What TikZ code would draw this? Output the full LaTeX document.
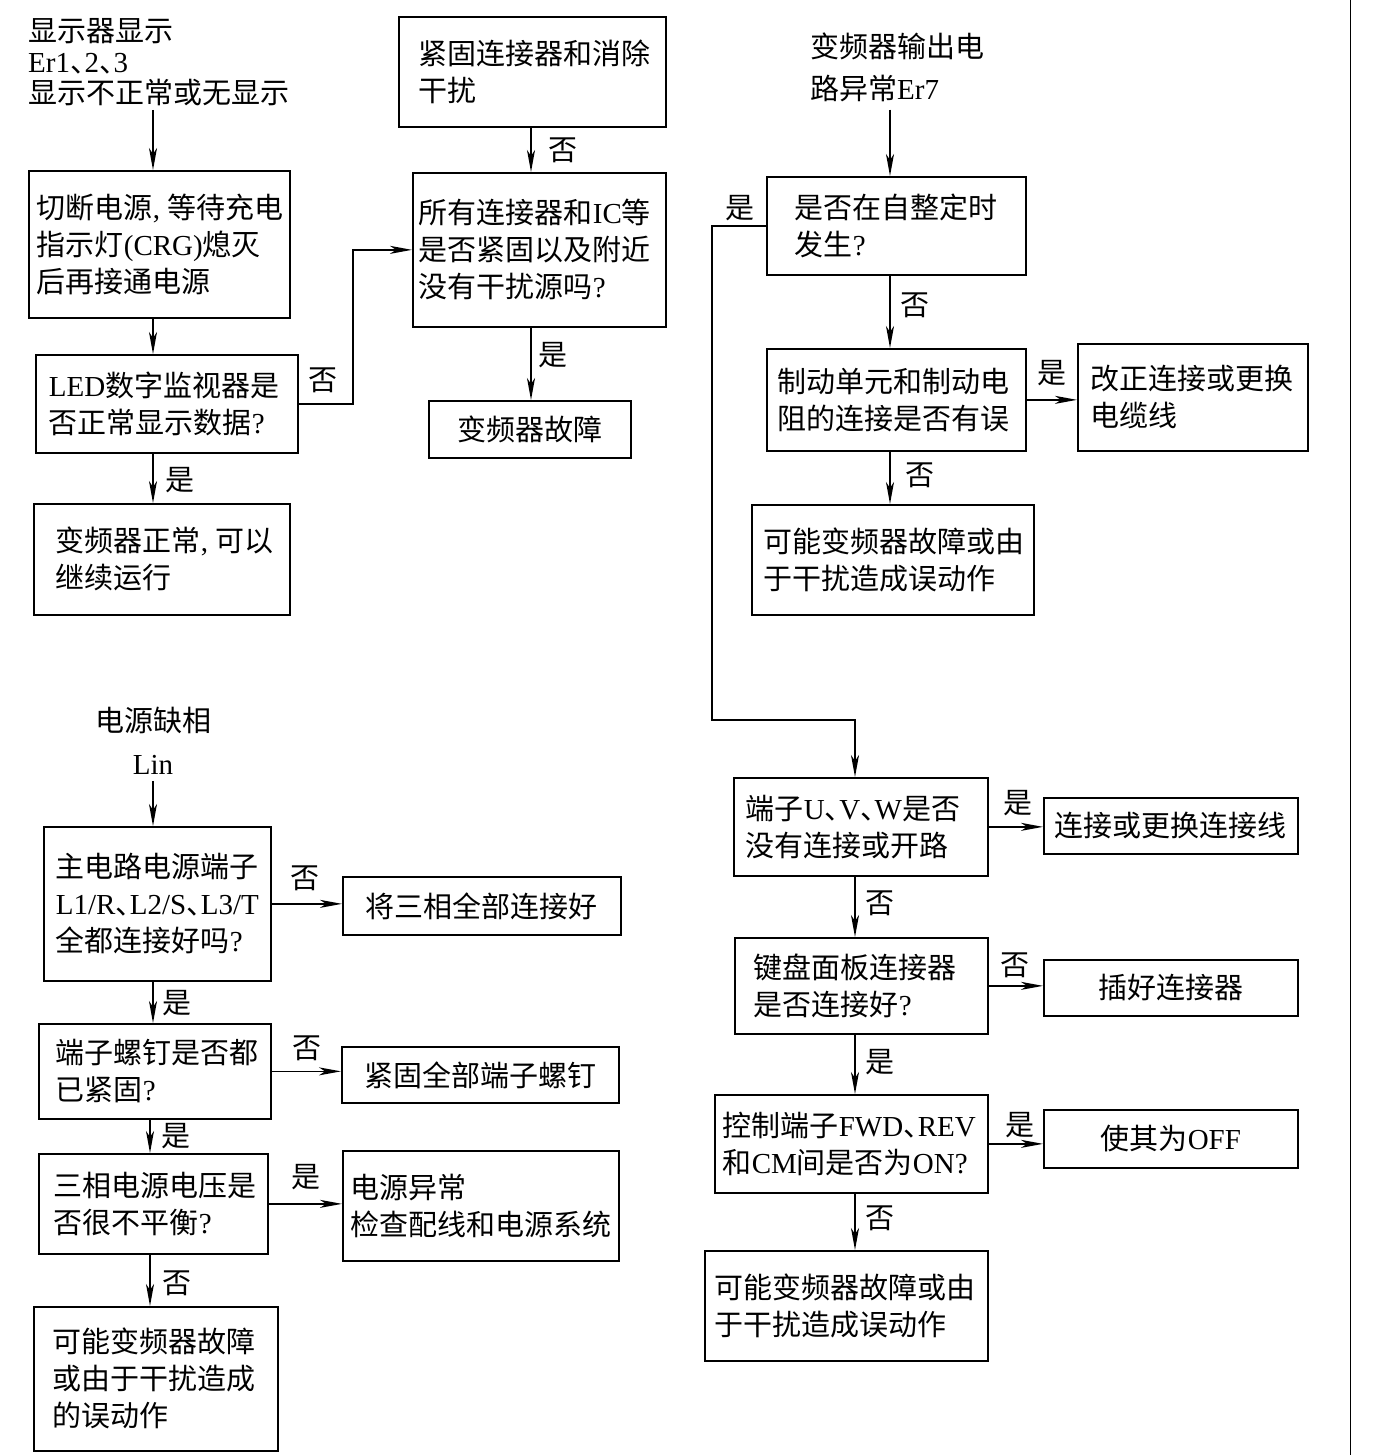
\documentclass[tikz,border=0pt]{standalone}
\usepackage{fontspec}
\setmainfont{Noto Sans CJK SC}
\newfontfamily\latf{Liberation Serif}
\newfontfamily\cjkh{Noto Sans CJK SC}[RawFeature=+halt]
\usetikzlibrary{arrows.meta,calc}
\newcommand\dn{{\cjkh 、}}
\newcommand\cm{{\latf ,}\kern7pt}
\begin{document}
\begin{tikzpicture}[x=1pt,y=-1pt,
  every node/.style={font=\fontsize{29}{37}\selectfont},
  box/.style={draw, line width=1.7pt, anchor=north west, align=left, inner ysep=0pt},
  cbox/.style={draw, line width=1.7pt, anchor=north west, align=center, inner sep=0pt},
  arr/.style={line width=1.7pt, -{Stealth[length=22pt,width=8pt,inset=6pt]}},
  lbl/.style={inner sep=0pt}]
\useasboundingbox[fill=white] (0,0) rectangle (1376,1455);
\draw[line width=1pt] (1350,0) -- (1350,1455);

% ---------- titles
\node[lbl, anchor=west, align=left, font=\fontsize{29}{31}\selectfont] (t1) at (28,62) {显示器显示\\{\latf Er1}\dn{\latf 2}\dn{\latf 3}\\显示不正常或无显示};
\node[lbl, anchor=west, align=left, font=\fontsize{29}{42}\selectfont] (t2) at (810,67) {变频器输出电\\路异常{\latf Er7}};
\node[lbl, anchor=center, align=center, font=\fontsize{29}{43}\selectfont] (t3) at (153,741) {电源缺相\\{\latf Lin}};

% ---------- top-left
\node[box, minimum height=147pt, text width=245pt, inner xsep=8pt] (A) at (28,170) {切断电源\cm 等待充电\\指示灯{\latf (CRG)}熄灭\\后再接通电源};
\node[box, minimum height=98pt, text width=236pt, inner xsep=13pt] (B) at (35,354) {{\latf LED}数字监视器是\\否正常显示数据{\latf ?}};
\node[box, minimum height=111pt, text width=212pt, inner xsep=22pt] (D) at (33,503) {变频器正常\cm 可以\\继续运行};

% ---------- top-middle
\node[box, minimum height=110pt, text width=227pt, inner xsep=20pt] (E) at (398,16) {紧固连接器和消除\\干扰};
\node[box, minimum height=154pt, text width=241pt, inner xsep=6pt] (C) at (412,172) {所有连接器和{\latf IC}等\\是否紧固以及附近\\没有干扰源吗{\latf ?}};
\node[cbox, minimum width=202pt, minimum height=57pt] (F) at (428,400) {变频器故障};

% ---------- top-right
\node[box, minimum height=98pt, text width=203pt, inner xsep=28pt] (G) at (766,176) {是否在自整定时\\发生{\latf ?}};
\node[box, minimum height=102pt, text width=237pt, inner xsep=11pt] (I) at (766,348) {制动单元和制动电\\阻的连接是否有误};
\node[box, minimum height=107pt, text width=204pt, inner xsep=13pt] (J) at (1077,343) {改正连接或更换\\电缆线};
\node[box, minimum height=110pt, text width=258pt, inner xsep=12pt] (K) at (751,504) {可能变频器故障或由\\于干扰造成误动作};

% ---------- bottom-right
\node[box, minimum height=98pt, text width=230pt, inner xsep=12pt] (H) at (733,777) {端子{\latf U}\dn{\latf V}\dn{\latf W}是否\\没有连接或开路};
\node[cbox, minimum width=254pt, minimum height=56pt] (L) at (1043,797) {连接或更换连接线};
\node[box, minimum height=96pt, text width=215pt, inner xsep=19pt] (M) at (734,937) {键盘面板连接器\\是否连接好{\latf ?}};
\node[cbox, minimum width=254pt, minimum height=56pt] (N) at (1043,959) {插好连接器};
\node[box, minimum height=98pt, text width=257pt, inner xsep=8pt] (O) at (714,1094) {控制端子{\latf FWD}\dn{\latf REV}\\和{\latf CM}间是否为{\latf ON?}};
\node[cbox, minimum width=254pt, minimum height=58pt] (P) at (1043,1109) {使其为{\latf OFF}};
\node[box, minimum height=110pt, text width=263pt, inner xsep=10pt] (Q) at (704,1250) {可能变频器故障或由\\于干扰造成误动作};

% ---------- bottom-left
\node[box, minimum height=154pt, text width=203pt, inner xsep=12pt] (R) at (43,826) {主电路电源端子\\{\latf L1/R}\dn{\latf L2/S}\dn{\latf L3/T}\\全都连接好吗{\latf ?}};
\node[cbox, minimum width=278pt, minimum height=58pt] (S) at (342,876) {将三相全部连接好};
\node[box, minimum height=95pt, text width=198pt, inner xsep=17pt] (T) at (38,1023) {端子螺钉是否都\\已紧固{\latf ?}};
\node[cbox, minimum width=277pt, minimum height=56pt] (U) at (341,1046) {紧固全部端子螺钉};
\node[box, minimum height=100pt, text width=199pt, inner xsep=15pt] (V) at (38,1153) {三相电源电压是\\否很不平衡{\latf ?}};
\node[box, minimum height=110pt, text width=260pt, inner xsep=8pt] (W) at (342,1150) {电源异常\\检查配线和电源系统};
\node[box, minimum height=144pt, text width=206pt, inner xsep=19pt] (X) at (33,1306) {可能变频器故障\\或由于干扰造成\\的误动作};

% ---------- helper coordinates
\coordinate (cL) at (153,0);
\coordinate (cM) at (531,0);
\coordinate (cG) at (890,0);
\coordinate (cH) at (855,0);
\coordinate (cLL) at (150,0);
\coordinate (cB) at (353,0);
\coordinate (cJ) at (712,720);

% ---------- connectors
\draw[arr] ($(t1.south -| cL)+(0,4)$) -- (A.north -| cL);
\draw[arr] (A.south -| cL) -- (B.north -| cL);
\draw[arr] (B.south -| cL) -- (D.north -| cL);
\draw[arr] (B.east) -| (cB |- C.west) -- (C.west);
\draw[arr] (E.south -| cM) -- (C.north -| cM);
\draw[arr] (C.south -| cM) -- (F.north -| cM);

\draw[arr] ($(t2.south -| cG)+(0,8)$) -- (G.north -| cG);
\draw[arr] (G.south -| cG) -- (I.north -| cG);
\draw[arr] (I.south -| cG) -- (K.north -| cG);
\draw[arr] (I.east) -- (I.east -| J.west);
\draw[arr] (G.west) -| (cJ) -| (H.north -| cH);

\draw[arr] (H.east) -- (H.east -| L.west);
\draw[arr] (H.south -| cH) -- (M.north -| cH);
\draw[arr] (M.east) -- (M.east -| N.west);
\draw[arr] (M.south -| cH) -- (O.north -| cH);
\draw[arr] (O.east) -- (O.east -| P.west);
\draw[arr] (O.south -| cH) -- (Q.north -| cH);

\draw[arr] ($(t3.south -| cL)+(0,6)$) -- (R.north -| cL);
\draw[arr] (R.east) -- (R.east -| S.west);
\draw[arr] (R.south -| cL) -- (T.north -| cL);
\draw[arr] (T.east) -- (T.east -| U.west);
\draw[arr] (T.south -| cLL) -- (V.north -| cLL);
\draw[arr] (V.east) -- (V.east -| W.west);
\draw[arr] (V.south -| cLL) -- (X.north -| cLL);

% ---------- branch labels
\node[lbl] (l1) at (323,380) {否};
\node[lbl] (l2) at (180,480) {是};
\node[lbl] (l3) at (563,150) {否};
\node[lbl] (l4) at (553,355) {是};
\node[lbl] (l5) at (740,208) {是};
\node[lbl] (l6) at (915,305) {否};
\node[lbl] (l7) at (1052,373) {是};
\node[lbl] (l8) at (920,475) {否};
\node[lbl] (l9) at (1018,803) {是};
\node[lbl] (l10) at (880,903) {否};
\node[lbl] (l11) at (1015,965) {否};
\node[lbl] (l12) at (880,1062) {是};
\node[lbl] (l13) at (1020,1125) {是};
\node[lbl] (l14) at (880,1218) {否};
\node[lbl] (l15) at (305,878) {否};
\node[lbl] (l16) at (177,1003) {是};
\node[lbl] (l17) at (307,1048) {否};
\node[lbl] (l18) at (176,1136) {是};
\node[lbl] (l19) at (306,1177) {是};
\node[lbl] (l20) at (177,1283) {否};
\end{tikzpicture}
\end{document}
